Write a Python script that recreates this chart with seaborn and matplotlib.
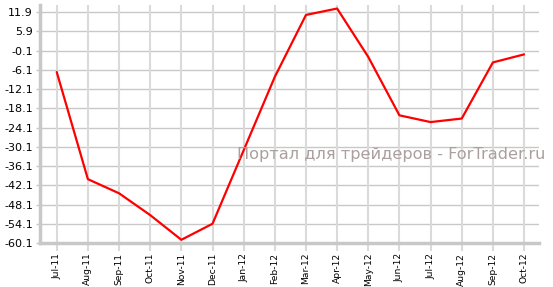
import matplotlib
matplotlib.use("Agg")
import matplotlib.pyplot as plt
import seaborn as sns
import pandas as pd

months = ["Jul-11", "Aug-11", "Sep-11", "Oct-11", "Nov-11", "Dec-11",
          "Jan-12", "Feb-12", "Mar-12", "Apr-12", "May-12", "Jun-12",
          "Jul-12", "Aug-12", "Sep-12", "Oct-12"]
values = [-6.8, -40.2, -44.6, -51.4, -59.1, -54.1,
          -31.2, -8.3, 11.0, 13.0, -2.1, -20.3,
          -22.4, -21.3, -3.8, -1.3]
yticks = [11.9, 5.9, -0.1, -6.1, -12.1, -18.1, -24.1, -30.1,
          -36.1, -42.1, -48.1, -54.1, -60.1]
watermark = "Портал для трейдеров - ForTrader.ru"

sns.set_theme(style="white")
plt.rcParams['font.family'] = ['DejaVu Sans']

df = pd.DataFrame({"month": months, "value": values, "idx": range(len(months))})

fig = plt.figure(figsize=(5.53, 2.87), dpi=100)
ax = fig.add_axes([40/553, (287-243)/287, (539-40)/553, (243-5)/287])

sns.lineplot(data=df, x="idx", y="value", ax=ax, color="#ff0000",
             linewidth=1.6, sort=False, zorder=5)

ax.set_xlim(-0.537, 15.48)
ax.set_ylim(-60.1, 14.1)
ax.set_xticks(df["idx"])
ax.set_xticklabels(months, rotation=90, fontsize=6.6, color="#000000")
ax.set_yticks(yticks)
ax.set_yticklabels([f"{v:.1f}" for v in yticks], fontsize=8, color="#000000")
ax.set_xlabel("")
ax.set_ylabel("")

ax.grid(False)
for v in yticks[:-1]:
    ax.axhline(v, color="#c8c8c8", linewidth=1.0, zorder=1)
for i in df["idx"]:
    ax.axvline(i, color="#dadada", linewidth=1.5, zorder=1)

for s in ["top", "right"]:
    ax.spines[s].set_visible(False)
for s in ["left", "bottom"]:
    ax.spines[s].set_color("#c8c8c8")
    ax.spines[s].set_linewidth(2.5)

ax.tick_params(axis="x", length=6, width=1.5, color="#dadada", pad=1, bottom=True)
ax.tick_params(axis="y", length=3, width=1.0, color="#c8c8c8", pad=2, left=True)

fig.text(237/553, (287-155)/287, watermark, fontsize=11.6, color="#ab9f9f",
         ha="left", va="center", zorder=10)

fig.savefig("out.png", dpi=100, facecolor="white")
